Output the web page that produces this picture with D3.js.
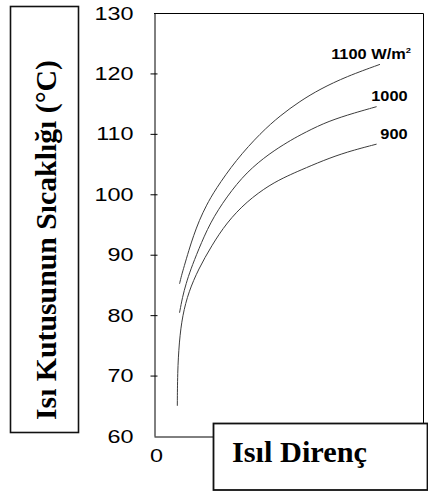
<!DOCTYPE html>
<html>
<head>
<meta charset="utf-8">
<script src="https://cdn.jsdelivr.net/npm/d3@7"></script>
<style>
  html, body { margin: 0; padding: 0; background: #fff; }
  svg { display: block; }
</style>
</head>
<body>
<svg id="chart" width="428" height="494"></svg>
<script>
// Thermal resistance (x) vs. heat box temperature (°C) for three irradiance levels
const res1100 = [1.14, 1.23, 1.34, 1.56, 1.76, 2.02, 2.34, 2.72, 3.66, 4.77, 5.62, 6.51, 7.40, 8.59, 10.08];
const temp1100 = [85.2, 86.6, 88.0, 90.8, 93.1, 95.7, 98.2, 100.7, 105.7, 110.2, 113.0, 115.4, 117.4, 119.5, 121.5];

const res1000 = [1.14, 1.27, 1.43, 1.63, 1.98, 2.50, 3.24, 4.13, 5.17, 5.99, 6.51, 7.55, 8.59, 9.93];
const temp1000 = [80.4, 83.0, 85.2, 87.5, 90.8, 95.3, 99.6, 103.7, 106.8, 108.7, 109.8, 111.75, 113.1, 114.5];

const res900 = [1.04, 1.05, 1.12, 1.27, 1.55, 1.98, 2.57, 3.24, 4.13, 5.17, 5.99, 6.51, 7.55, 8.59, 9.93];
const temp900 = [65.0, 70.4, 75.5, 80.0, 83.9, 87.6, 91.5, 95.3, 98.8, 101.6, 103.1, 103.95, 105.6, 107.0, 108.3];

const seriesNames = ["1100", "1000", "900"];
const yTicks = [60, 70, 80, 90, 100, 110, 120, 130];
const xTicks = [0];
const yTitle = "Isı Kutusunun Sıcaklığı (°C)";
const xTitle = "Isıl Direnç";

(function () {
  const series = [
    { name: seriesNames[0], unit: true, xs: res1100, ys: temp1100 },
    { name: seriesNames[1], unit: false, xs: res1000, ys: temp1000 },
    { name: seriesNames[2], unit: false, xs: res900, ys: temp900 }
  ];

  const svg = d3.select("#chart");
  const plotLeft = 154, plotRight = 423, plotTop = 13, plotBottom = 436;

  const x = d3.scaleLinear().domain([0, 12]).range([plotLeft, plotRight]);
  const y = d3.scaleLinear().domain([60, 130]).range([plotBottom, plotTop]);

  svg.append("rect").attr("width", 428).attr("height", 494).attr("fill", "#fff");

  // plot frame (top and right edges)
  svg.append("path")
    .attr("d", `M${plotLeft},${plotTop + 0.5}H${plotRight + 0.5}V${plotBottom}`)
    .attr("fill", "none").attr("stroke", "#000").attr("stroke-width", 1);

  // y axis with ticks crossing the axis line
  const sxTick = 1.3;
  const yAxis = svg.append("g")
    .attr("transform", `translate(${plotLeft + 0.5},0)`)
    .call(d3.axisLeft(y).tickValues(yTicks).tickSize(4).tickSizeOuter(0));
  yAxis.select(".domain").attr("stroke", "#000");
  yAxis.selectAll(".tick line").attr("x1", 3).attr("stroke", "#000");
  yAxis.selectAll(".tick").filter(d => d === 60 || d === 130).select("line").remove();
  yAxis.selectAll(".tick text")
    .attr("font-family", "'Liberation Sans', Arial, sans-serif")
    .attr("font-size", 18)
    .attr("fill", "#000")
    .attr("x", -21 / sxTick)
    .attr("dy", "0.34em")
    .attr("transform", `scale(${sxTick},1)`);

  // x axis
  const xAxis = svg.append("g")
    .attr("transform", `translate(0,${plotBottom + 0.5})`)
    .call(d3.axisBottom(x).tickValues(xTicks).tickSize(0).tickPadding(13).tickSizeOuter(0));
  xAxis.select(".domain").attr("stroke", "#000");
  xAxis.selectAll(".tick text")
    .attr("font-family", "'Liberation Sans', Arial, sans-serif")
    .attr("font-size", 18)
    .attr("fill", "#000")
    .attr("x", 2 / sxTick)
    .attr("transform", `scale(${sxTick},1)`);

  // curves, smoothed with a B-spline through the sampled readings
  const line = d3.line()
    .x(d => x(d[0]))
    .y(d => y(d[1]))
    .curve(d3.curveBasis);

  series.forEach(s => {
    const pts = s.xs.map((v, i) => [v, s.ys[i]]);
    svg.append("path")
      .datum(pts)
      .attr("d", line)
      .attr("fill", "none")
      .attr("stroke", "#3c3c3c")
      .attr("stroke-width", 1);

    const last = pts[pts.length - 1];
    const lx = x(last[0]) + 31, ly = y(last[1]) - 5.5;
    const g = svg.append("g").attr("transform", `translate(${lx},${ly}) scale(1.17,1)`);
    const t = g.append("text")
      .attr("text-anchor", "end")
      .attr("font-family", "'Liberation Sans', Arial, sans-serif")
      .attr("font-weight", "bold")
      .attr("font-size", 14)
      .attr("fill", "#000");
    if (s.unit) {
      t.append("tspan").text(s.name + " W/m");
      t.append("tspan").attr("font-size", 8).attr("dy", -6).text("2");
    } else {
      t.text(s.name);
    }
  });

  // y title box
  svg.append("rect")
    .attr("x", 10.5).attr("y", 6.5).attr("width", 68).attr("height", 426)
    .attr("fill", "#fff").attr("stroke", "#111").attr("stroke-width", 1.6);
  svg.append("text")
    .attr("transform", "translate(56,240) rotate(-90)")
    .attr("text-anchor", "middle")
    .attr("font-family", "'Liberation Serif', 'Times New Roman', serif")
    .attr("font-weight", "bold")
    .attr("font-size", 29)
    .attr("textLength", 360)
    .attr("lengthAdjust", "spacingAndGlyphs")
    .attr("fill", "#000")
    .text(yTitle);

  // x title box
  svg.append("rect")
    .attr("x", 213.5).attr("y", 423.5).attr("width", 214).attr("height", 66.5)
    .attr("fill", "#fff").attr("stroke", "#111").attr("stroke-width", 1.8);
  svg.append("text")
    .attr("x", 232).attr("y", 462)
    .attr("font-family", "'Liberation Serif', 'Times New Roman', serif")
    .attr("font-weight", "bold")
    .attr("font-size", 29)
    .attr("textLength", 135)
    .attr("lengthAdjust", "spacingAndGlyphs")
    .attr("fill", "#000")
    .text(xTitle);
})();
</script>
</body>
</html>
